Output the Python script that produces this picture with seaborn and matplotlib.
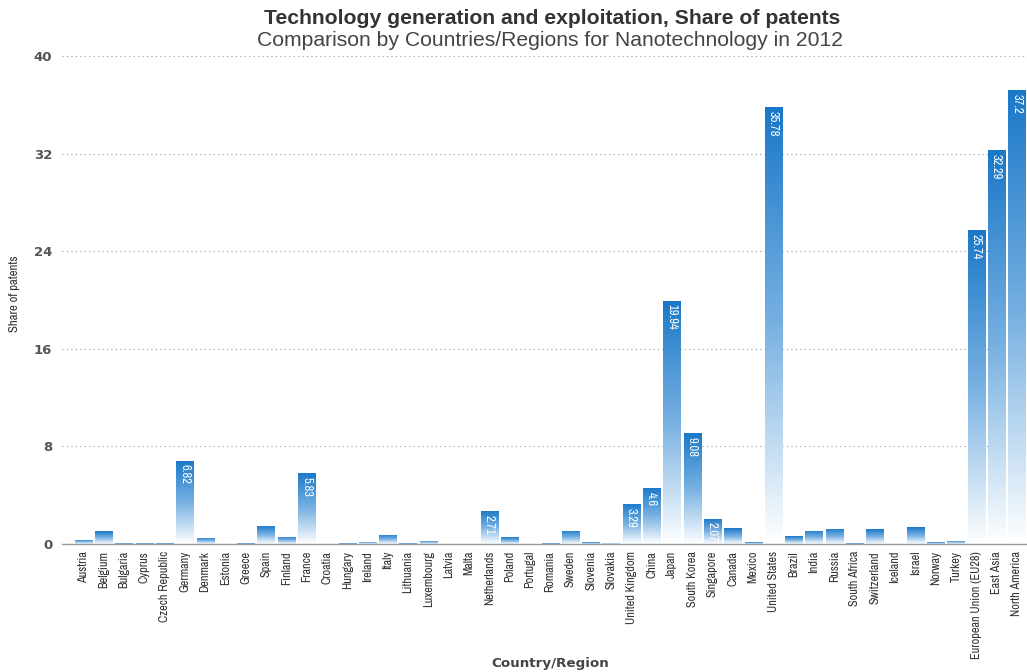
import numpy as np
import pandas as pd
import matplotlib
matplotlib.use("Agg")
import matplotlib.pyplot as plt
import seaborn as sns
from matplotlib import font_manager
from matplotlib.colors import LinearSegmentedColormap

countries = ["Austria", "Belgium", "Bulgaria", "Cyprus", "Czech Republic", "Germany",
             "Denmark", "Estonia", "Greece", "Spain", "Finland", "France", "Croatia",
             "Hungary", "Ireland", "Italy", "Lithuania", "Luxembourg", "Latvia", "Malta",
             "Netherlands", "Poland", "Portugal", "Romania", "Sweden", "Slovenia",
             "Slovakia", "United Kingdom", "China", "Japan", "South Korea", "Singapore",
             "Canada", "Mexico", "United States", "Brazil", "India", "Russia",
             "South Africa", "Switzerland", "Iceland", "Israel", "Norway", "Turkey",
             "European Union (EU28)", "East Asia", "North America"]
shares = [0.35, 1.03, 0.08, 0.08, 0.05, 6.82,
          0.5, 0.0, 0.07, 1.48, 0.6, 5.83, 0.02,
          0.07, 0.2, 0.74, 0.08, 0.27, 0.0, 0.0,
          2.71, 0.57, 0.0, 0.08, 1.09, 0.15,
          0.1, 3.29, 4.6, 19.94, 9.08, 2.07,
          1.31, 0.15, 35.78, 0.65, 1.07, 1.23,
          0.08, 1.2, 0.0, 1.37, 0.15, 0.25,
          25.74, 32.29, 37.2]
yticks = [0, 8, 16, 24, 32, 40]

# pick a condensed face if one is installed
fl = font_manager.fontManager.ttflist
narrow_family, narrow_stretch = "DejaVu Sans", "normal"
for f in fl:
    if "Narrow" in f.name or "Condensed" in f.name:
        narrow_family, narrow_stretch = f.name, "normal"
        break
else:
    for f in fl:
        if str(f.stretch).endswith("condensed"):
            narrow_family, narrow_stretch = f.name, f.stretch
            break
is_condensed = narrow_stretch != "normal" or narrow_family != "DejaVu Sans"
tick_fs = 8.8 if is_condensed else 7.2
val_fs = 9 if is_condensed else 7.5

sans = "Liberation Sans"
sns.set_theme(style="white")
plt.rcParams["font.family"] = [sans, "DejaVu Sans"]

NF = dict(family=narrow_family, stretch=narrow_stretch)

df = pd.DataFrame({"Country/Region": countries, "Share of patents": shares})

fig = plt.figure(figsize=(10.27, 6.72), dpi=100)
ax = fig.add_axes([62 / 1027, 1 - 544 / 672, 1 - 62 / 1027, (544 - 56) / 672])

sns.barplot(data=df, x="Country/Region", y="Share of patents", color="#1a78c8",
            width=0.84, ax=ax, saturation=1)

cmap = LinearSegmentedColormap.from_list("blu", ["#ffffff", "#78b1e2", "#1a78c8"])
grad = np.linspace(0, 1, 256).reshape(-1, 1)
for p in ax.patches:
    x0, y0 = p.get_x(), p.get_y()
    w, h = p.get_width(), p.get_height()
    if h <= 0:
        continue
    im = ax.imshow(grad, cmap=cmap, aspect="auto", origin="lower",
                   extent=[x0, x0 + w, y0, y0 + h], zorder=2, interpolation="bilinear")
    im.set_clip_path(p)
    p.set_facecolor("none")
    p.set_edgecolor("none")

for i, v in enumerate(shares):
    if v >= 2:
        ax.text(i, v - 0.3, f"{v:g}", rotation=-90, ha="center", va="top",
                color="white", fontsize=val_fs, zorder=4, clip_on=True, **NF)

ax.set_xlim(-1.05, len(countries) - 0.5)
ax.set_ylim(0, 40)
ax.set_yticks(yticks)
ax.set_yticklabels([str(t) for t in yticks], fontsize=9.5, color="#555555",
                   fontweight="bold", family="DejaVu Sans")
ax.yaxis.grid(True, linestyle=(0, (1, 3)), color="#999999", linewidth=0.8)
ax.set_axisbelow(True)
for s in ["top", "right", "left"]:
    ax.spines[s].set_visible(False)
ax.spines["bottom"].set_color("#999999")
ax.spines["bottom"].set_linewidth(1.0)
ax.tick_params(axis="y", length=0, pad=7)
ax.tick_params(axis="x", length=0, pad=5)
ax.set_xticks(range(len(countries)))
ax.set_xticklabels(countries, rotation=90, fontsize=tick_fs, color="#333333", **NF)
ax.set_xlabel("")
ax.set_ylabel("")

fig.text(15 / 1027, 1 - 294 / 672, "Share of patents", rotation=90, ha="center",
         va="center", fontsize=tick_fs + 0.4, color="#333333", **NF)
fig.text(550 / 1027, 1 - 663 / 672, "Country/Region", ha="center", va="center",
         fontsize=9.7, color="#444444", fontweight="bold", family="DejaVu Sans")
fig.text(552 / 1027, 1 - 19 / 672, "Technology generation and exploitation, Share of patents",
         ha="center", va="center", fontsize=15.2, fontweight="bold", color="#333333")
fig.text(550 / 1027, 1 - 40 / 672, "Comparison by Countries/Regions for Nanotechnology in 2012",
         ha="center", va="center", fontsize=15.2, color="#444444")

fig.savefig("out.png", dpi=100)
